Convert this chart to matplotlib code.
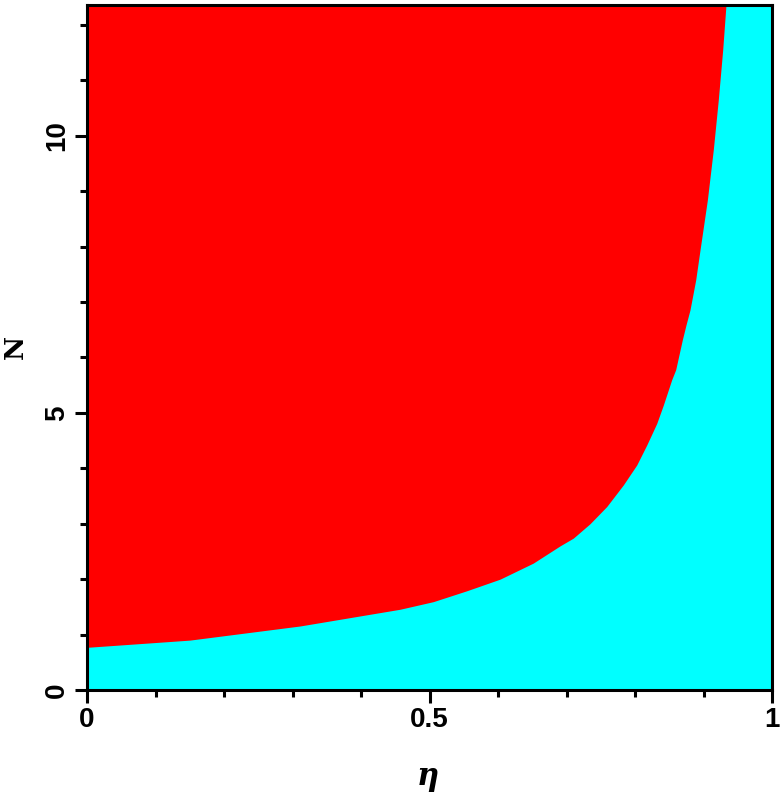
import matplotlib
matplotlib.use("Agg")
import matplotlib.pyplot as plt
from matplotlib.ticker import MultipleLocator
import numpy as np

# boundary curve (eta, N)
eta = [0.0, 0.15, 0.311, 0.457, 0.5055, 0.5543, 0.603, 0.6515, 0.6905,
       0.7099, 0.7343, 0.7587, 0.7829, 0.8025, 0.8171, 0.8317, 0.8413,
       0.8536, 0.8594, 0.8691, 0.8745, 0.8803, 0.8886, 0.8949, 0.9056,
       0.9143, 0.9216, 0.928, 0.9328]
N_boundary = [0.77, 0.90, 1.155, 1.457, 1.594, 1.79, 2.00, 2.29, 2.60,
              2.74, 3.00, 3.31, 3.70, 4.06, 4.42, 4.81, 5.14,
              5.60, 5.78, 6.32, 6.59, 6.86, 7.40, 7.94, 8.84,
              9.75, 10.65, 11.55, 12.36]

x_range = [0.0, 1.0]
y_range = [0.0, 12.36]
x_major = [0, 0.5, 1]
x_major_labels = ["0", "0.5", "1"]
y_major = [0, 5, 10]
y_major_labels = ["0", "5", "10"]

fig = plt.figure(figsize=(7.81, 7.94), dpi=100)
ax = fig.add_axes([87/781, 1-690/794, (772-87)/781, (690-5)/794])

e = np.array(eta)
n = np.array(N_boundary)
# cyan background (region below curve)
ax.fill_between([x_range[0], x_range[1]], y_range[0], y_range[1], color="#00ffff", lw=0)
# red region above curve
ax.fill_between(e, n, y_range[1], color="#ff0000", lw=0)

ax.set_xlim(*x_range)
ax.set_ylim(*y_range)

ax.set_xticks(x_major)
ax.set_xticklabels(x_major_labels)
ax.set_yticks(y_major)
ax.set_yticklabels(y_major_labels, rotation=90, va="center")
ax.xaxis.set_minor_locator(MultipleLocator(0.1))
ax.yaxis.set_minor_locator(MultipleLocator(1))

ax.tick_params(which="major", direction="out", length=9, width=2.2, pad=3)
ax.tick_params(which="minor", direction="out", length=5, width=2.2)
ax.tick_params(top=False, right=False, which="both")

for lab in ax.get_xticklabels() + ax.get_yticklabels():
    lab.set_fontfamily("Liberation Sans")
    lab.set_fontweight("bold")
    lab.set_fontsize(20)

for s in ax.spines.values():
    s.set_linewidth(2.2)
    s.set_color("black")

fig.text(428/781, 1-777/794, "\u03b7", fontsize=22, fontweight="bold", fontstyle="italic",
         family="DejaVu Serif", ha="center", va="center")
fig.text(15/781, 1-347/794, "N", fontsize=19, fontweight="bold", rotation=90,
         family="DejaVu Serif", ha="center", va="center")

fig.savefig("out.png", dpi=100)
